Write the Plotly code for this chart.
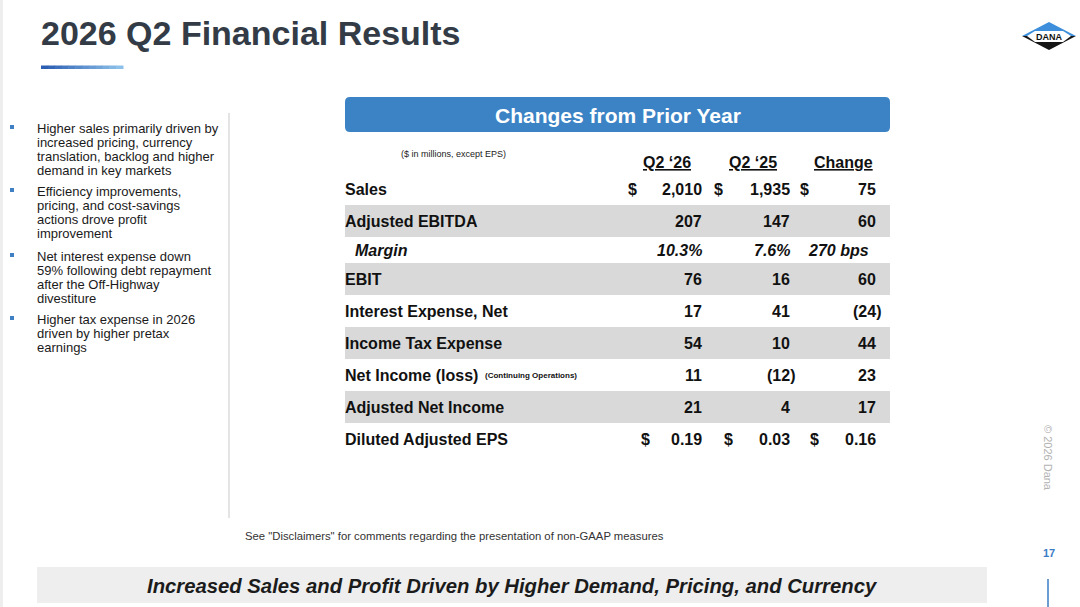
import plotly.graph_objects as go

# ---------- Datos de la diapositiva
FONT = "Liberation Sans, Arial, sans-serif"

titulo = "2026 Q2 Financial Results"
encabezado = "Changes from Prior Year"
nota_unidades = "($ in millions, except EPS)"
columnas = ["Q2 \u201826", "Q2 \u201825", "Change"]

filas = ["Sales", "Adjusted EBITDA", "Margin", "EBIT", "Interest Expense, Net",
         "Income Tax Expense", "Net Income (loss)", "Adjusted Net Income", "Diluted Adjusted EPS"]
q2_26 = [2010, 207, 10.3, 76, 17, 54, 11, 21, 0.19]
q2_25 = [1935, 147, 7.6, 16, 41, 10, -12, 4, 0.03]
cambio = [75, 60, 270, 60, -24, 44, 23, 17, 0.16]
formato = ["int", "int", "pct", "int", "int", "int", "int", "int", "eps"]
filas_con_dolar = ["Sales", "Diluted Adjusted EPS"]
filas_sombreadas = ["Adjusted EBITDA", "EBIT", "Income Tax Expense", "Adjusted Net Income"]
sufijo_net_income = "(Continuing Operations)"

bullets = [
    ["Higher sales primarily driven by", "increased pricing, currency",
     "translation, backlog and higher", "demand in key markets"],
    ["Efficiency improvements,", "pricing, and cost-savings",
     "actions drove profit", "improvement"],
    ["Net interest expense down", "59% following debt repayment",
     "after the Off-Highway", "divestiture"],
    ["Higher tax expense in 2026", "driven by higher pretax", "earnings"],
]

nota_pie = 'See "Disclaimers" for comments regarding the presentation of non-GAAP measures'
conclusion = "Increased Sales and Profit Driven by Higher Demand, Pricing, and Currency"
pagina = "17"
copyright_txt = "\u00a9 2026 Dana"

# ---------- Layout (pixeles)
W, H = 1080, 607
tabla_x0, tabla_x1 = 345, 890
fila_y0 = 173
alturas = [32, 32, 26, 32, 32, 32, 32, 32, 32]
col_derecha = [702, 790, 876]
col_centro = [667, 753, 843]
dolar_x = {"Sales": [632, 718, 804], "Diluted Adjusted EPS": [645, 728, 814]}
bullet_y0 = [128, 191, 256, 319]
interlineado = 14.3

AZUL = "#3b83c5"
TEXTO = "#111111"


def fmt(v, tipo, es_cambio=False):
    if tipo == "pct":
        return f"{v:.0f} bps" if es_cambio else f"{v:.1f}%"
    if tipo == "eps":
        return f"{v:.2f}"
    s = f"{abs(v):,.0f}"
    return f"({s})" if v < 0 else s


fig = go.Figure()
shapes = []
anns = []


def texto(x, y, t, size, color=TEXTO, bold=False, italic=False, xa="left", ya="middle", **kw):
    f = dict(family=FONT, size=size, color=color)
    if bold:
        f["weight"] = "bold"
    if italic:
        f["style"] = "italic"
    f.update(kw.pop("font_extra", {}))
    anns.append(dict(x=x, y=y, xref="x", yref="y", text=t, showarrow=False, font=f,
                     xanchor=xa, yanchor=ya, borderpad=0, borderwidth=0, **kw))


# franja izquierda
shapes.append(dict(type="rect", x0=0, x1=3, y0=0, y1=H, fillcolor="#eeeeee", line_width=0, layer="below"))

# titulo y subrayado degradado
texto(41, 33, titulo, 34, color="#333c46", bold=True)
c0, c1 = (44, 94, 178), (140, 192, 234)
n = 12
for i in range(n):
    t = i / (n - 1)
    col = "rgb(%d,%d,%d)" % tuple(int(a + (b - a) * t) for a, b in zip(c0, c1))
    shapes.append(dict(type="rect", x0=41 + i * 82 / n, x1=41 + (i + 1) * 82 / n + 0.5, y0=65.5, y1=69,
                       fillcolor=col, line_width=0))

# logo
shapes.append(dict(type="path", path="M 1022,36 L 1049,22 L 1076,36 Z", fillcolor="#3d8fdb", line_width=0))
shapes.append(dict(type="path", path="M 1022,36 L 1076,36 L 1049,50 Z", fillcolor="#151515", line_width=0))
shapes.append(dict(type="path", path="M 1027,36 L 1035,31 L 1063,31 L 1071,36 L 1063,42 L 1035,42 Z",
                   fillcolor="white", line_width=0))
texto(1049, 36.5, "DANA", 9, color="#111111", bold=True, xa="center")

# panel izquierdo
for k, lineas in enumerate(bullets):
    y0 = bullet_y0[k]
    shapes.append(dict(type="rect", x0=10, x1=14, y0=y0 - 3, y1=y0 + 1, fillcolor="#3f7fc3", line_width=0))
    for j, linea in enumerate(lineas):
        texto(37, y0 + j * interlineado, linea, 13, color="#1a1a1a")
shapes.append(dict(type="line", x0=229, x1=229, y0=113, y1=518, line=dict(color="#c9c9c9", width=1)))

# encabezado azul redondeado
r = 5
x0, x1, y0, y1 = tabla_x0, tabla_x1, 97, 132
shapes.append(dict(type="path", fillcolor=AZUL, line_width=0,
                   path=f"M {x0+r},{y0} L {x1-r},{y0} Q {x1},{y0} {x1},{y0+r} L {x1},{y1-r} "
                        f"Q {x1},{y1} {x1-r},{y1} L {x0+r},{y1} Q {x0},{y1} {x0},{y1-r} "
                        f"L {x0},{y0+r} Q {x0},{y0} {x0+r},{y0} Z"))
texto((x0 + x1) / 2, 115.5, encabezado, 21, color="white", bold=True, xa="center")

texto(453, 154, nota_unidades, 9, color="#222222", xa="center")
for c, nombre in enumerate(columnas):
    texto(col_centro[c], 162, nombre, 16, bold=True, xa="center",
          font_extra={"lineposition": "under"})

# filas de la tabla
y = fila_y0
for i, fila in enumerate(filas):
    h = alturas[i]
    yc = y + h / 2
    if fila in filas_sombreadas:
        shapes.append(dict(type="rect", x0=tabla_x0, x1=tabla_x1, y0=y, y1=y + h,
                           fillcolor="#d9d9d9", line_width=0, layer="below"))
    cursiva = formato[i] == "pct"
    texto(355 if cursiva else tabla_x0, yc, fila, 16, bold=True, italic=cursiva)
    if fila == "Net Income (loss)":
        texto(485, yc, sufijo_net_income, 8, bold=True)
    valores = [q2_26[i], q2_25[i], cambio[i]]
    for c, v in enumerate(valores):
        s = fmt(v, formato[i], es_cambio=(c == 2))
        xr = col_derecha[c] + (5 if s.endswith(")") else 0)
        if cursiva and c == 2:
            xr = col_derecha[c] - 7
        texto(xr, yc, s, 16, bold=True, italic=cursiva, xa="right")
    if fila in filas_con_dolar:
        for c in range(3):
            texto(dolar_x[fila][c], yc, "$", 16, bold=True, xa="center")
    y += h

# pie
texto(245, 536, nota_pie, 11.3, color="#333333")
shapes.append(dict(type="rect", x0=37, x1=987, y0=567, y1=603, fillcolor="#eeeeee", line_width=0, layer="below"))
texto(512, 586, conclusion, 20.3, bold=True, italic=True, color="#1b1b1b", xa="center")
texto(1049, 553, pagina, 11, color="#3a7cc4", bold=True, xa="center")
shapes.append(dict(type="line", x0=1048, x1=1048, y0=579, y1=607, line=dict(color="#3a7cc4", width=1.5)))
texto(1048, 458, copyright_txt, 11, color="#b3b3b3", xa="center", textangle=90)

fig.update_layout(
    width=W, height=H, margin=dict(l=0, r=0, t=0, b=0),
    paper_bgcolor="white", plot_bgcolor="white", showlegend=False,
    xaxis=dict(range=[0, W], visible=False, fixedrange=True),
    yaxis=dict(range=[H, 0], visible=False, fixedrange=True),
    shapes=shapes, annotations=anns,
)

fig.write_html("out.html", config={"displayModeBar": False},
               post_script="document.body.style.margin='0';")
